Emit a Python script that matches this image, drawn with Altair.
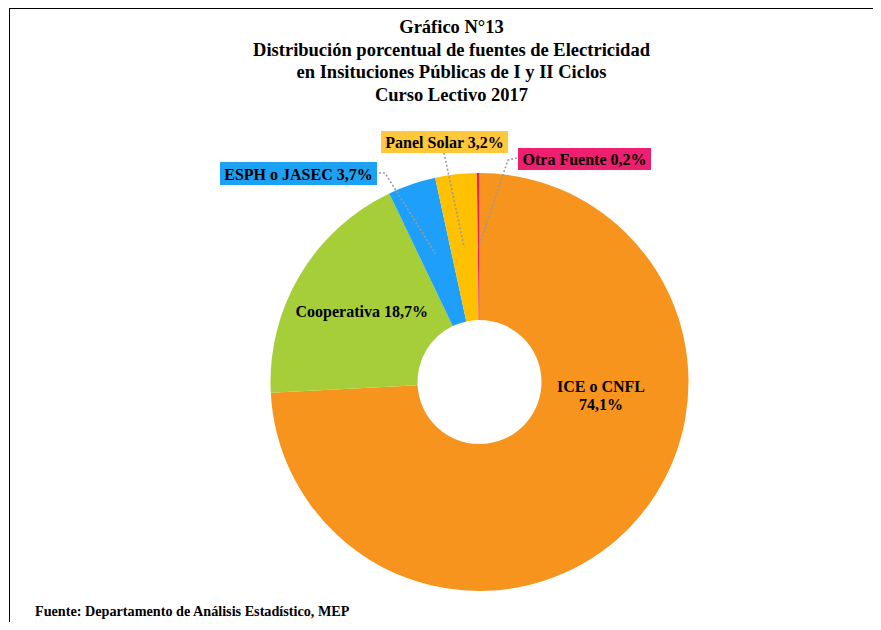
import altair as alt
import numpy as np
import pandas as pd

# ---------------- data ----------------
categories = ["ICE o CNFL", "Cooperativa", "ESPH o JASEC", "Panel Solar", "Otra Fuente"]
values = [74.1, 18.7, 3.7, 3.2, 0.2]
slice_colors = ["#F7941D", "#A6CE39", "#1E9FF9", "#FFC000", "#EC1C6C"]

title_lines = [
    "Gráfico N°13",
    "Distribución porcentual de fuentes de Electricidad",
    "en Insituciones Públicas de I y II  Ciclos",
    "Curso Lectivo 2017",
]
source_text = "Fuente: Departamento de Análisis Estadístico, MEP"

# ---------------- layout ----------------
W, H = 865, 614
CX, CY = 471.5, 374.0
R_OUT, R_IN = 209, 62
R_MID = (R_OUT + R_IN) / 2
FONT = "Liberation Serif"

df = pd.DataFrame({"cat": categories, "value": values, "order": list(range(len(values)))})
df["pct"] = [f"{v:.1f}".replace(".", ",") + "%" for v in values]
total = df["value"].sum()
cum = df["value"].cumsum()
df["mid"] = (cum - df["value"] / 2) / total * 2 * np.pi


def polar(angle, r):
    return CX + r * np.sin(angle), CY - r * np.cos(angle)


mid = dict(zip(df["cat"], df["mid"]))
pct = dict(zip(df["cat"], df["pct"]))

# labels inside the ring
inner_rows = []
cx_, cy_ = polar(mid["Cooperativa"], 137)
inner_rows.append({"text": f"Cooperativa {pct['Cooperativa']}", "x": cx_, "y": cy_})
inner_rows.append({"text": f"ICE o CNFL\n{pct['ICE o CNFL']}", "x": 593, "y": 379})
inner_df = pd.DataFrame(inner_rows)

# callout boxes (centre x, centre y, width, height, box colour)
callouts = {
    "ESPH o JASEC": dict(cx=290.5, cy=165.5, w=157, h=23, fill="#1DA1F2",
                         path=[(371, 165), (377, 165)]),
    "Panel Solar": dict(cx=436.5, cy=134, w=127, h=22, fill="#FFC73A",
                        path=[(436, 145)]),
    "Otra Fuente": dict(cx=576.5, cy=151, w=133, h=22, fill="#EE1F6F",
                        path=[(509, 150), (500, 152)]),
}
box_rows, line_rows = [], []
for cat, c in callouts.items():
    box_rows.append({
        "text": f"{cat} {pct[cat]}",
        "cx": c["cx"], "cy": c["cy"],
        "x1": c["cx"] - c["w"] / 2, "x2": c["cx"] + c["w"] / 2,
        "y1": c["cy"] - c["h"] / 2, "y2": c["cy"] + c["h"] / 2,
        "fill": c["fill"],
    })
    pts = list(c["path"]) + [polar(mid[cat], R_MID)]
    for i, (px, py) in enumerate(pts):
        line_rows.append({"id": cat, "seq": i, "px": px, "py": py})
box_df = pd.DataFrame(box_rows)
line_df = pd.DataFrame(line_rows)

title_df = pd.DataFrame({"text": title_lines, "i": list(range(len(title_lines)))})
title_df["ty"] = 25 + 22.7 * title_df["i"]

nox = dict(scale=None, axis=None)

# ---------------- layers ----------------
pie = alt.Chart(df).mark_arc(outerRadius=R_OUT, innerRadius=R_IN).encode(
    x=alt.value(CX),
    y=alt.value(CY),
    theta=alt.Theta("value:Q", stack=True),
    order=alt.Order("order:Q"),
    color=alt.Color("cat:N", scale=alt.Scale(domain=categories, range=slice_colors), legend=None),
)

leaders = alt.Chart(line_df).mark_line(
    strokeDash=[2, 2], color="#9A9A9A", strokeWidth=1.6
).encode(
    x=alt.X("px:Q", **nox),
    y=alt.Y("py:Q", **nox),
    detail="id:N",
    order="seq:Q",
)

boxes = alt.Chart(box_df).mark_rect().encode(
    x=alt.X("x1:Q", **nox), x2="x2:Q",
    y=alt.Y("y1:Q", **nox), y2="y2:Q",
    color=alt.Color("fill:N", scale=None),
)

box_text = alt.Chart(box_df).mark_text(
    font=FONT, fontSize=16, fontWeight="bold", color="black", align="center", baseline="middle", dy=1
).encode(
    x=alt.X("cx:Q", **nox), y=alt.Y("cy:Q", **nox), text="text:N"
)

inner_text = alt.Chart(inner_df).mark_text(
    font=FONT, fontSize=16, fontWeight="bold", color="black", align="center",
    baseline="middle", lineBreak="\n", lineHeight=18
).encode(
    x=alt.X("x:Q", **nox), y=alt.Y("y:Q", **nox), text="text:N"
)

titles = alt.Chart(title_df).mark_text(
    font=FONT, fontSize=18.5, fontWeight="bold", color="black", align="center", baseline="alphabetic"
).encode(
    x=alt.value(443.5), y=alt.Y("ty:Q", **nox), text="text:N"
)

source = alt.Chart(pd.DataFrame({"text": [source_text]})).mark_text(
    font=FONT, fontSize=14.2, fontWeight="bold", color="black", align="left", baseline="middle"
).encode(
    x=alt.value(27), y=alt.value(604), text="text:N"
)

one = pd.DataFrame({"a": [0]})
top_border = alt.Chart(one).mark_rule(color="black", strokeWidth=1).encode(
    x=alt.value(1), x2=alt.value(W), y=alt.value(0.5)
)
left_border = alt.Chart(one).mark_rule(color="black", strokeWidth=1).encode(
    x=alt.value(1.5), y=alt.value(0), y2=alt.value(H)
)

chart = alt.layer(
    pie, leaders, boxes, box_text, inner_text, titles, source, top_border, left_border
).properties(
    width=W, height=H, padding=0, autosize=alt.AutoSizeParams(type="none"), background="white"
).configure_view(stroke=None)

chart.save("out.html", embed_options={"renderer": "svg", "actions": False})
